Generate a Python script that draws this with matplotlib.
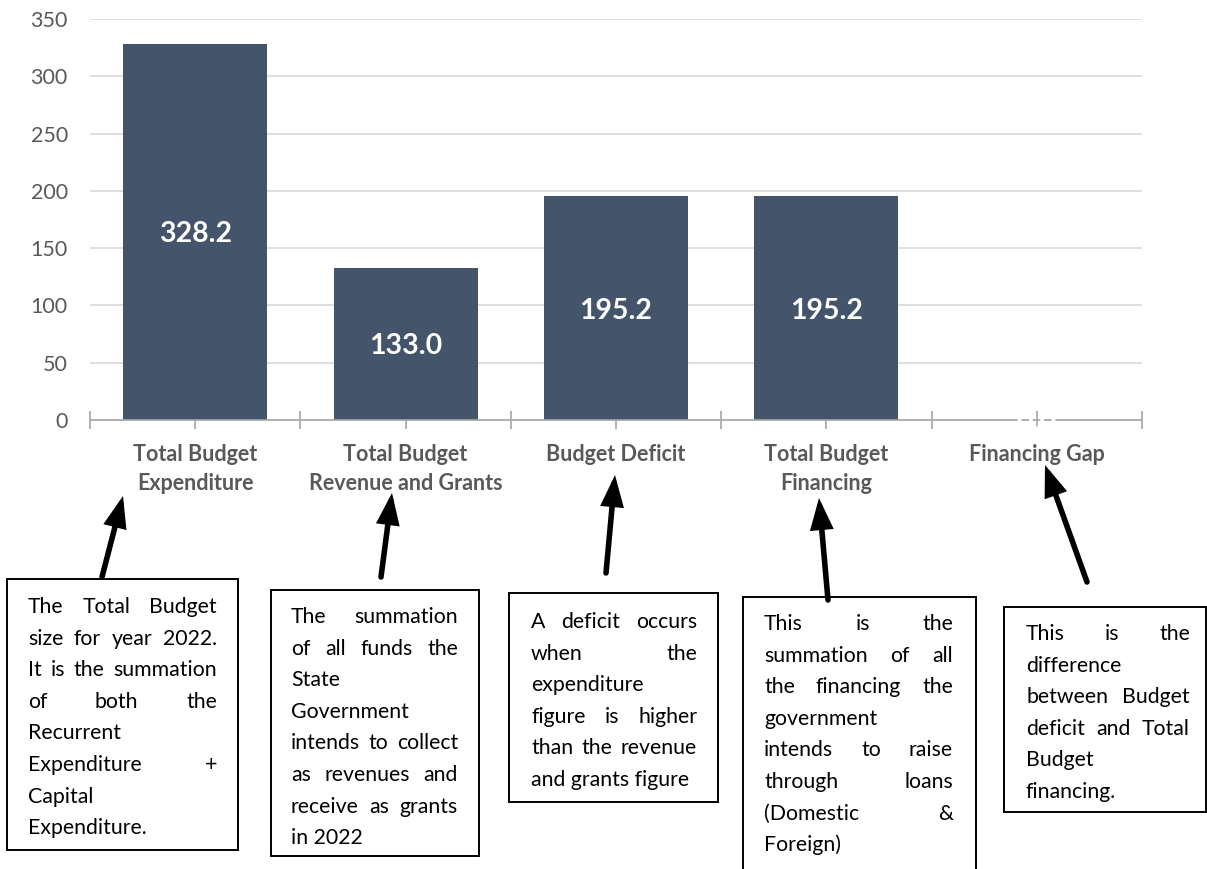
import matplotlib
matplotlib.use('Agg')
import matplotlib.pyplot as plt
from matplotlib.patches import Rectangle, FancyArrowPatch
from matplotlib.font_manager import FontProperties

W, H = 1207, 869

categories = ['Total Budget\nExpenditure', 'Total Budget\nRevenue and Grants',
              'Budget Deficit', 'Total Budget\nFinancing', 'Financing Gap']
values = [328.2, 133.0, 195.2, 195.2, 0.0]
yticks = [0, 50, 100, 150, 200, 250, 300, 350]

# note text, line by line as in the source; True = justified line
note1 = [('The Total Budget', True), ('size for year 2022.', True),
         ('It is the summation', True), ('of both the', True),
         ('Recurrent', False), ('Expenditure +', True),
         ('Capital', False), ('Expenditure.', False)]
note2 = [('The summation', True), ('of all funds the', True),
         ('State', False), ('Government', False),
         ('intends to collect', True), ('as revenues and', True),
         ('receive as grants', True), ('in 2022', False)]
note3 = [('A deficit occurs', True), ('when the', True),
         ('expenditure', False), ('figure is higher', True),
         ('than the revenue', True), ('and grants figure', False)]
note4 = [('This is the', True), ('summation of all', True),
         ('the financing the', True), ('government', False),
         ('intends to raise', True), ('through loans', True),
         ('(Domestic &', True), ('Foreign)', False)]
note5 = [('This is the', True), ('difference', False),
         ('between Budget', True), ('deficit and Total', True),
         ('Budget', False), ('financing.', False)]
notes = [note1, note2, note3, note4, note5]

BAR = '#44546A'
GREY = '#595959'
FONT = 'Lato'

fig = plt.figure(figsize=(W / 100, H / 100), dpi=100)
ax = fig.add_axes([90 / W, 1 - 420 / H, (1142 - 90) / W, (420 - 19) / H])

x = list(range(len(values)))
ax.bar(x, values, width=0.685, color=BAR, zorder=2)
for i, v in zip(x, values):
    ax.text(i, v / 2, f'{v:.1f}', ha='center', va='center_baseline', color='white',
            fontsize=20.5, fontweight='bold', family=FONT, zorder=5, clip_on=False)

ax.set_xlim(-0.5, len(values) - 0.5)
ax.set_ylim(0, 350)
ax.set_yticks(yticks)
ax.set_xticks(x)
ax.set_xticklabels(categories, fontsize=15.5, fontweight='bold', color=GREY, family=FONT)
ax.set_xticks([i - 0.5 for i in range(len(values) + 1)], minor=True)
for lbl in ax.get_xticklabels():
    lbl.set_linespacing(1.45)
ax.tick_params(axis='x', which='both', direction='inout', length=13,
               color='#A6A6A6', width=1.2, pad=11)
ax.tick_params(axis='y', length=0, pad=16, labelsize=15.5, labelcolor=GREY)
for lbl in ax.get_yticklabels():
    lbl.set_family(FONT)
ax.yaxis.grid(True, color='#D9D9D9', lw=1.2)
ax.set_axisbelow(True)
for s in ['top', 'right', 'left']:
    ax.spines[s].set_visible(False)
ax.spines['bottom'].set_color('#A6A6A6')
ax.spines['bottom'].set_linewidth(1.2)

# note boxes (pixel coords from top-left)
boxes = [(7, 579, 238, 850), (271, 590, 479, 856), (509, 593, 718, 802),
         (743, 597, 976, 885), (1004, 607, 1206, 812)]
text_span = [(28, 217), (291, 458), (531, 697), (764, 953), (1026, 1190)]
first_base = [613, 623, 628, 630, 640]
line_gap = 31.6
arrows = [(102, 577, 123, 496), (381, 577, 392, 493), (606, 573, 615, 475),
          (828, 600, 819, 498), (1087, 582, 1045, 465)]


def fx(px):
    return px / W


def fy(py):
    return 1 - py / H


renderer = fig.canvas.get_renderer()
prop = FontProperties(family=FONT, size=15.3)

for (x0, y0, x1, y1), (tl, tr), base, lines in zip(boxes, text_span, first_base, notes):
    fig.add_artist(Rectangle((fx(x0), fy(y1)), (x1 - x0) / W, (y1 - y0) / H,
                             transform=fig.transFigure, fill=False,
                             ec='black', lw=1.4))
    for k, (line, just) in enumerate(lines):
        yb = base + k * line_gap
        words = line.split()
        if not just or len(words) == 1:
            fig.text(fx(tl), fy(yb), line, fontproperties=prop,
                     ha='left', va='baseline', color='black')
            continue
        widths = [renderer.get_text_width_height_descent(w, prop, ismath=False)[0]
                  for w in words]
        gap = (tr - tl - sum(widths)) / (len(words) - 1)
        cx = tl
        for w, wd in zip(words, widths):
            fig.text(fx(cx), fy(yb), w, fontproperties=prop,
                     ha='left', va='baseline', color='black')
            cx += wd + gap

for tx, ty, hx, hy in arrows:
    fig.add_artist(FancyArrowPatch((fx(tx), fy(ty)), (fx(hx), fy(hy)),
                                   transform=fig.transFigure,
                                   arrowstyle='-|>,head_length=0.7,head_width=0.26',
                                   mutation_scale=22, lw=4, color='black',
                                   joinstyle='miter', shrinkA=0, shrinkB=0))

fig.savefig('out.png', dpi=100)
